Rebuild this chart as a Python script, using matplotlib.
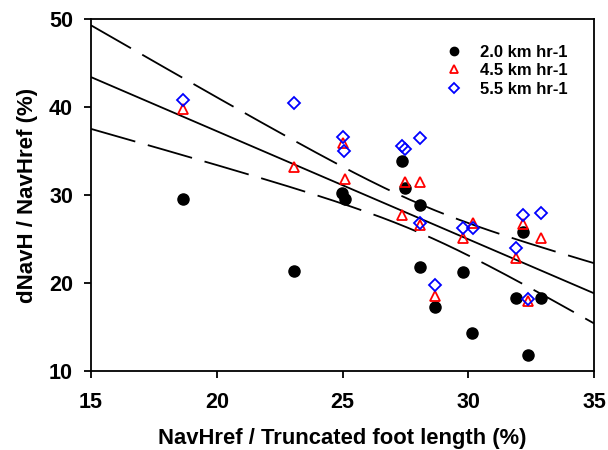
import numpy as np
import matplotlib
matplotlib.use("Agg")
import matplotlib.pyplot as plt

plt.rcParams['font.family'] = ['Liberation Sans', 'DejaVu Sans']
plt.rcParams['font.weight'] = 'bold'

# x values (NavHref / truncated foot length, %)
x_20 = [18.66, 23.07, 24.98, 25.1, 27.37, 27.5, 28.08, 28.08, 28.68, 29.78, 30.15, 31.9, 32.18, 32.9, 32.38]
y_20 = [29.5, 21.4, 30.2, 29.5, 33.9, 30.8, 28.9, 21.8, 17.3, 21.25, 14.3, 18.3, 25.8, 18.3, 11.8]

x_45 = [18.66, 23.07, 25.0, 25.1, 27.37, 27.5, 28.08, 28.08, 28.68, 29.78, 30.2, 31.9, 32.18, 32.9, 32.38]
y_45 = [39.8, 33.2, 35.9, 31.8, 27.7, 31.5, 31.5, 26.6, 18.5, 25.1, 26.8, 22.8, 26.7, 25.1, 17.9]

x_55 = [18.66, 23.07, 25.0, 25.07, 27.37, 27.5, 28.08, 28.08, 28.68, 29.78, 30.2, 31.9, 32.18, 32.9, 32.38]
y_55 = [40.8, 40.45, 36.6, 35.0, 35.6, 35.2, 36.5, 26.8, 19.8, 26.25, 26.25, 24.0, 27.7, 28.0, 18.2]

labels = ['2.0 km hr-1', '4.5 km hr-1', '5.5 km hr-1']
x_ticks = [15, 20, 25, 30, 35]
y_ticks = [10, 20, 30, 40, 50]

fig = plt.figure(figsize=(6.08, 4.5), dpi=100)
ax = fig.add_axes([0.1497, 0.1756, 0.977 - 0.1497, 0.9578 - 0.1756])

# pooled linear regression with 95% confidence band
X = np.array(x_20 + x_45 + x_55)
Y = np.array(y_20 + y_45 + y_55)
n = len(X)
b, a = np.polyfit(X, Y, 1)
resid = Y - (a + b * X)
s = np.sqrt(np.sum(resid**2) / (n - 2))
xm = X.mean()
sxx = np.sum((X - xm) ** 2)
t = 2.018
xx = np.linspace(15, 35, 200)
yy = a + b * xx
half = t * s * np.sqrt(1.0 / n + (xx - xm) ** 2 / sxx)

lw = 1.3
ax.plot(xx, yy, color='black', lw=lw, zorder=2)
dash = (0, (25.5, 7.2))
ax.plot(xx, yy + half, color='black', lw=lw, linestyle=dash, zorder=2)
ax.plot(xx, yy - half, color='black', lw=lw, linestyle=dash, zorder=2)

ax.plot(x_20, y_20, 'o', color='black', ms=8, zorder=3, label=labels[0])
ax.plot(x_45, y_45, '^', mfc='none', mec='red', ms=7, mew=1.3, zorder=4, label=labels[1])
ax.plot(x_55, y_55, 'D', mfc='none', mec='blue', ms=6.5, mew=1.3, zorder=5, label=labels[2])

ax.set_xlim(15, 35)
ax.set_ylim(10, 50)
ax.set_xticks(x_ticks)
ax.set_yticks(y_ticks)
ax.tick_params(direction='out', length=5, width=1.3, labelsize=15.5)
ax.tick_params(axis='x', pad=10)
ax.tick_params(axis='y', pad=8)
for lab in ax.get_xticklabels() + ax.get_yticklabels():
    lab.set_fontweight('bold')
for sp in ax.spines.values():
    sp.set_linewidth(1.3)

ax.set_xlabel('NavHref / Truncated foot length (%)', fontsize=15.8, fontweight='bold')
ax.set_ylabel('dNavH / NavHref (%)', fontsize=16, fontweight='bold')
ax.xaxis.set_label_coords(0.5, -0.163)
ax.yaxis.set_label_coords(-0.106, 0.5)

leg = ax.legend(loc='upper left', bbox_to_anchor=(0.678, 0.965), frameon=False,
                prop={'size': 12, 'weight': 'bold'}, markerscale=0.75,
                handletextpad=1.1, labelspacing=0.22, handlelength=1.0,
                borderpad=0.3)

fig.savefig('out.png', dpi=100)
